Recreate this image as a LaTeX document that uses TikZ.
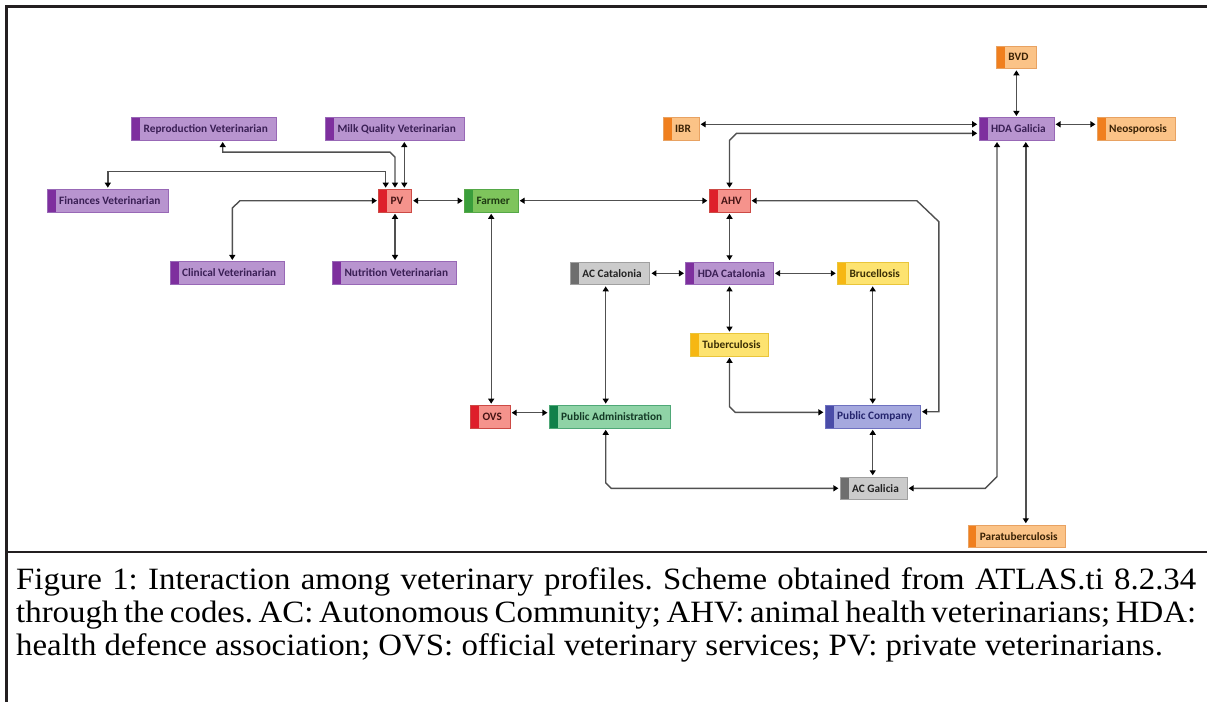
\documentclass[tikz,border=0pt]{standalone}
\usepackage{fontspec}
\usetikzlibrary{arrows.meta, calc}
\newfontfamily\boxfont{Carlito}
\newfontfamily\capfont[FakeStretch=1.06]{Liberation Serif}
\definecolor{lineGray}{HTML}{505050}
\definecolor{frameBlack}{HTML}{231F20}
\definecolor{purpleFill}{HTML}{B894CF}
\definecolor{purpleBar}{HTML}{7E2F9E}
\definecolor{purpleLine}{HTML}{9868B6}
\definecolor{purpleText}{HTML}{3A1F55}
\definecolor{redFill}{HTML}{F5938C}
\definecolor{redBar}{HTML}{DE1F2A}
\definecolor{redLine}{HTML}{CC4A45}
\definecolor{redText}{HTML}{451414}
\definecolor{farmFill}{HTML}{7EC45C}
\definecolor{farmBar}{HTML}{3A9E3C}
\definecolor{farmLine}{HTML}{55A847}
\definecolor{farmText}{HTML}{1E3A12}
\definecolor{adminFill}{HTML}{8FD3A6}
\definecolor{adminBar}{HTML}{11804A}
\definecolor{adminLine}{HTML}{4FA877}
\definecolor{adminText}{HTML}{143A26}
\definecolor{grayFill}{HTML}{CBCBCB}
\definecolor{grayBar}{HTML}{6E6E6E}
\definecolor{grayLine}{HTML}{A0A0A0}
\definecolor{grayText}{HTML}{222222}
\definecolor{yellowFill}{HTML}{FDE370}
\definecolor{yellowBar}{HTML}{F6B713}
\definecolor{yellowLine}{HTML}{E9C53A}
\definecolor{yellowText}{HTML}{3A2E05}
\definecolor{orangeFill}{HTML}{FBC387}
\definecolor{orangeBar}{HTML}{F07F1E}
\definecolor{orangeLine}{HTML}{E8A262}
\definecolor{orangeText}{HTML}{3A2205}
\definecolor{blueFill}{HTML}{A5A8DE}
\definecolor{blueBar}{HTML}{4A4CA8}
\definecolor{blueLine}{HTML}{6E71C0}
\definecolor{blueText}{HTML}{25256E}
\tikzset{
    codebox/.style={rectangle, fill=#1Fill, draw=#1Line, line width=0.6pt, text=#1Text, minimum height=22.5pt, inner xsep=8pt, inner ysep=0pt, font=\boxfont\bfseries\fontsize{11.3}{13}\selectfont, execute at begin node={\hspace*{4pt}}, path picture={\fill[#1Bar] (path picture bounding box.south west) rectangle ([xshift=8.5pt]path picture bounding box.north west);}},
    profile/.style={codebox=purple},
    vetgroup/.style={codebox=red},
    farm/.style={codebox=farm},
    admin/.style={codebox=admin},
    region/.style={codebox=gray},
    zoonosis/.style={codebox=yellow},
    disease/.style={codebox=orange},
    company/.style={codebox=blue},
    link/.style={{Triangle[length=5pt,width=6pt,color=black]}-{Triangle[length=5pt,width=6pt,color=black]}, draw=lineGray, line width=1.4pt, shorten <=1.5pt, shorten >=1.5pt},
    frame/.style={draw=frameBlack, line width=2.7pt},
    captext/.style={anchor=base west, inner sep=0pt, font=\capfont\fontsize{31}{33.4}\selectfont\frenchspacing},
}
\begin{document}
\begin{tikzpicture}[x=1pt, y=-1pt]
    \useasboundingbox (0,0) rectangle (1207,702);
    \draw[frame] (1207,6.7) -- (6.7,6.7) -- (6.7,702);
    \draw[frame] (6.7,552) -- (1207,552);

    % private veterinarians
    \node[profile] (repro) at (203.8,129) {Reproduction Veterinarian};
    \node[profile] (milk) at (394.7,129) {Milk Quality Veterinarian};
    \node[profile] (fin) at (107.8,200.7) {Finances Veterinarian};
    \node[vetgroup] (pv) at (395,200.7) {PV};
    \node[profile] (clin) at (227.2,273) {Clinical Veterinarian};
    \node[profile] (nutr) at (394.3,273) {Nutrition Veterinarian};
    \node[farm] (farmer) at (491.2,200.7) {Farmer};
    % animal health side
    \node[disease] (ibr) at (681,129) {IBR};
    \node[vetgroup] (ahv) at (729.5,200.7) {AHV};
    \node[region] (acc) at (610,273.3) {AC Catalonia};
    \node[profile] (hdac) at (729.5,273.3) {HDA Catalonia};
    \node[zoonosis] (bruc) at (872.7,273.3) {Brucellosis};
    \node[zoonosis] (tub) at (729.5,344.7) {Tuberculosis};
    \node[vetgroup] (ovs) at (490.2,416.7) {OVS};
    \node[admin] (pa) at (609.7,416.7) {Public Administration};
    \node[company] (pc) at (872.7,416.7) {Public Company};
    \node[region] (acg) at (873.5,488.3) {AC Galicia};
    \node[disease] (bvd) at (1016.4,57.3) {BVD};
    \node[profile] (hdag) at (1016.4,129) {HDA Galicia};
    \node[disease] (neo) at (1136,129) {Neosporosis};
    \node[disease] (para) at (1016.7,536.3) {Paratuberculosis};

    % links around PV
    \draw[link] ($(pv.north)+(-9.3,0)$) |- ($(fin.north)+(0,-17.6)$) -- (fin.north);
    \draw[link] (pv.north) -- ++(0,-32) -- ++(-5,-5) -| ($(repro.south)+(18.9,0)$);
    \draw[link] ($(pv.north)+(9.3,0)$) -- ($(pv.north |- milk.south)+(9.3,0)$);
    \draw[link] (pv.west) -- ($(clin.north |- pv.west)+(12.8,0)$) -- ++(-7.7,7.3) -- ($(clin.north)+(5.1,0)$);
    \draw[link] (pv.south) -- (pv.south |- nutr.north);
    \draw[link] (pv.east) -- (farmer.west);
    \draw[link] (farmer.east) -- (ahv.west);
    \draw[link] (farmer.south) -- (farmer.south |- ovs.north);

    % links around AHV and HDA
    \draw[link] (ahv.north) -- ($(ahv.north |- hdag.west)+(0,11.3)$) -- ++(7,-7) -- ($(hdag.west)+(0,4.3)$);
    \draw[link] ($(ibr.east)+(0,-4.7)$) -- ($(hdag.west)+(0,-4.7)$);
    \draw[link] (ahv.east) -- ($(pc.east |- ahv.east)+(-3.7,0)$) -- ++(22,21) -- ($(pc.east)+(18.3,-5)$) -- ($(pc.east)+(0,-5)$);
    \draw[link] (ahv.south) -- (hdac.north);
    \draw[link] (acc.east) -- (hdac.west);
    \draw[link] (hdac.east) -- (bruc.west);
    \draw[link] (hdac.south) -- (tub.north);
    \draw[link] ($(acc.south)+(-4.3,0)$) -- ($(acc.south |- pa.north)+(-4.3,0)$);
    \draw[link] (bruc.south) -- (pc.north);
    \draw[link] (tub.south) -- ($(tub.south |- pc.west)+(0,-10)$) -- ++(5.6,5.6) -- ($(pc.west)+(0,-4.4)$);
    \draw[link] ($(ovs.east)+(0,-4)$) -- ($(pa.west)+(0,-4)$);
    \draw[link] ($(pa.south)+(-4,0)$) -- ($(pa.south |- acg.west)+(-4,-5.5)$) -- ++(5.5,5.5) -- (acg.west);
    \draw[link] (pc.south) -- (pc.south |- acg.north);

    % links around HDA Galicia
    \draw[link] (bvd.south) -- (hdag.north);
    \draw[link] ($(hdag.east)+(0,-4.7)$) -- ($(neo.west)+(0,-4.7)$);
    \draw[link] ($(hdag.south)+(-19.4,0)$) -- ($(hdag.south |- acg.east)+(-19.4,-11.6)$) -- ++(-11.6,11.6) -- (acg.east);
    \draw[link] ($(hdag.south)+(9.4,0)$) -- ($(hdag.south |- para.north)+(9.4,0)$);

    % caption
    \node[captext] (capA) at (16,589) {\makebox[1180pt][s]{Figure 1: Interaction among veterinary profiles. Scheme obtained from ATLAS.ti 8.2.34}};
    \node[captext] (capB) at (16,622.4) {\makebox[1180pt][s]{through the codes. AC: Autonomous Community; AHV: animal health veterinarians; HDA:}};
    \node[captext] (capC) at (16,655.8) {health defence association; OVS: official veterinary services; PV: private veterinarians.};
\end{tikzpicture}
\end{document}
